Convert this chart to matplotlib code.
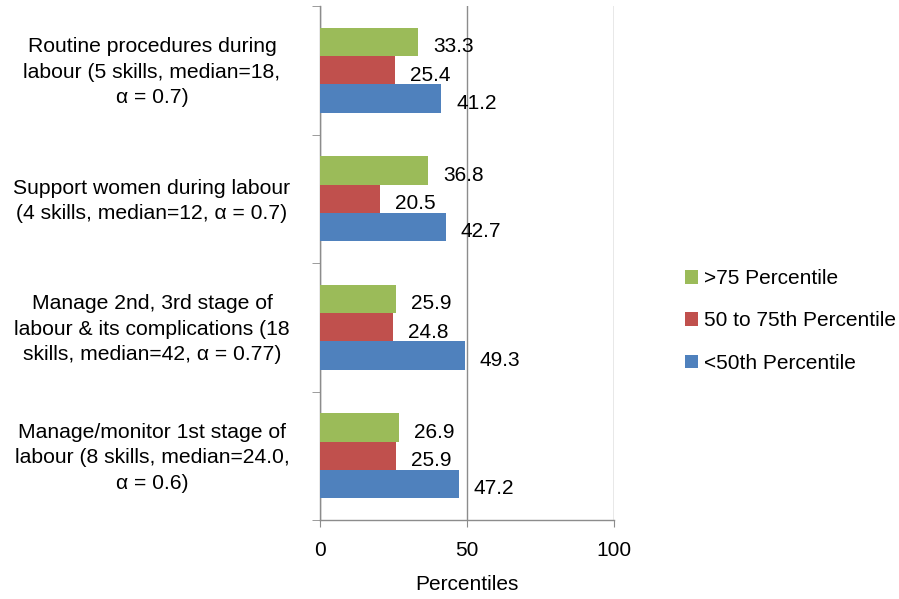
import matplotlib
matplotlib.use("Agg")
import matplotlib.pyplot as plt
import numpy as np
from matplotlib.patches import Patch

plt.rcParams['font.family'] = ['Liberation Sans', 'DejaVu Sans']

categories = [
    "Manage/monitor 1st stage of\nlabour (8 skills, median=24.0,\n\u03b1 = 0.6)",
    "Manage 2nd, 3rd stage of\nlabour & its complications (18\nskills, median=42, \u03b1 = 0.77)",
    "Support women during labour\n(4 skills, median=12, \u03b1 = 0.7)",
    "Routine procedures during\nlabour (5 skills, median=18,\n\u03b1 = 0.7)",
]
series_names = [">75 Percentile", "50 to 75th Percentile", "<50th Percentile"]
above75 = [26.9, 25.9, 36.8, 33.3]
p50_75 = [25.9, 24.8, 20.5, 25.4]
below50 = [47.2, 49.3, 42.7, 41.2]
colors = ["#9BBB59", "#C0504D", "#4F81BD"]
xticks = [0, 50, 100]

fig = plt.figure(figsize=(8.99, 5.99), dpi=100)
ax = fig.add_axes([320/899, 1 - 520/599, (614-320)/899, (520-6)/599])

y = np.arange(len(categories))
h = 0.22
offsets = [h, 0, -h]
fs = 15
for vals, off, col in zip([above75, p50_75, below50], offsets, colors):
    bars = ax.barh(y + off, vals, height=h, color=col, edgecolor='none', zorder=3)
    for b, v in zip(bars, vals):
        ax.annotate(f"{v:.1f}", xy=(v, b.get_y() + b.get_height()/2),
                    xytext=(10.8, -3.5), textcoords='offset points',
                    ha='left', va='center', fontsize=fs, color='black', zorder=4)

ax.set_xlim(0, 100)
ax.set_ylim(-0.5, len(categories) - 0.5)
ax.set_xticks(xticks)
ax.set_xticklabels([str(t) for t in xticks], fontsize=fs)
ax.tick_params(axis='x', direction='out', length=5, color='#8c8c8c', pad=10)
ax.grid(axis='x', color='#8c8c8c', linewidth=1.0, zorder=0)

# category labels drawn as centred text blocks left of the axis
ax.set_yticks(y)
ax.set_yticklabels([])
ax.tick_params(axis='y', which='major', length=0)
ax.set_yticks(np.arange(-0.5, len(categories), 1.0), minor=True)
ax.tick_params(axis='y', which='minor', direction='out', length=6, color='#8c8c8c')
ytrans = ax.get_yaxis_transform()
for yy, lab in zip(y, categories):
    ax.annotate(lab, xy=(0, yy), xycoords=ytrans,
                xytext=(-168 * 0.72, -1.5), textcoords='offset points',
                ha='center', va='center', multialignment='center',
                fontsize=15.2, linespacing=1.44, annotation_clip=False)

for s in ['top', 'right']:
    ax.spines[s].set_visible(False)
for s in ['left', 'bottom']:
    ax.spines[s].set_color('#8c8c8c')
    ax.spines[s].set_linewidth(1.0)

ax.set_xlabel("Percentiles", fontsize=fs, labelpad=11)

handles = [Patch(facecolor=c, edgecolor='none') for c in colors]
fig.legend(handles, series_names, loc='center left',
           bbox_to_anchor=(666/899, 1 - 321/599), frameon=False,
           fontsize=fs, handlelength=0.65, handleheight=0.65,
           handletextpad=0.25, labelspacing=1.12)

fig.savefig("out.png", dpi=100)
